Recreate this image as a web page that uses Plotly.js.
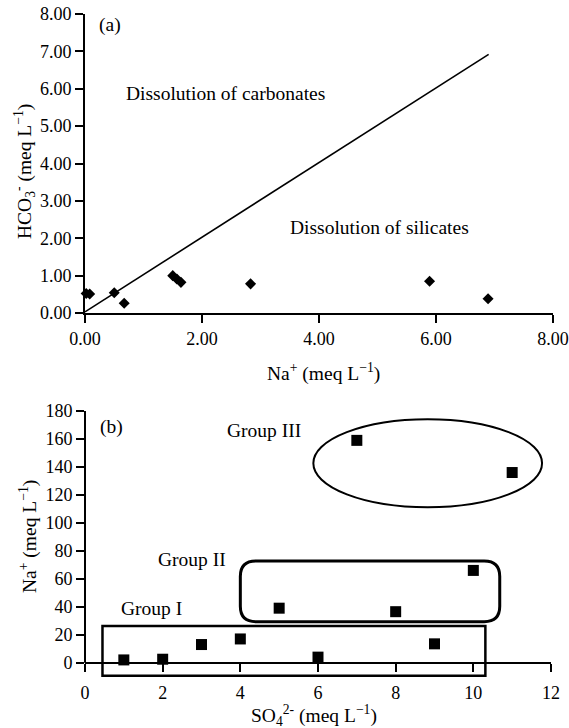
<!DOCTYPE html>
<html><head><meta charset="utf-8">
<script src="https://cdn.plot.ly/plotly-3.0.1.min.js"></script>
<style>html,body{margin:0;padding:0;background:#fff}#chart{width:569px;height:728px}</style>
</head><body><div id="chart"></div>
<script>
// Panel (a): Na+ vs HCO3-
const naA = [0.02, 0.08, 0.50, 0.67, 1.50, 1.57, 1.64, 2.83, 5.89, 6.89];
const hco3A = [0.52, 0.51, 0.54, 0.26, 1.00, 0.91, 0.82, 0.78, 0.85, 0.38];
const lineX = [0, 6.9];
const lineY = [0.03, 6.92];
const ticksA = [0, 1, 2, 3, 4, 5, 6, 7, 8];
const ticksAx = [0, 2, 4, 6, 8];
// Panel (b): SO4 2- vs Na+
const so4B = [1, 2, 3, 4, 6, 9, 5, 8, 10, 7, 11];
const naB = [2, 2.5, 13, 17, 4, 13.5, 39, 36.5, 66, 159, 136];
const ticksBy = [0, 20, 40, 60, 80, 100, 120, 140, 160, 180];
const ticksBx = [0, 2, 4, 6, 8, 10, 12];
const groupLabels = ['Group I', 'Group II', 'Group III'];

const F = 'Liberation Serif, Times New Roman, serif';
const fnt = {family: F, size: 18, color: '#000'};
const tfnt = {family: F, size: 19.5, color: '#000'};

const traces = [
  {x: lineX, y: lineY, mode: 'lines', line: {color: '#000', width: 1.6}, xaxis: 'x', yaxis: 'y', hoverinfo: 'skip'},
  {x: naA, y: hco3A, mode: 'markers', marker: {symbol: 'diamond', size: 8.5, color: '#000'}, xaxis: 'x', yaxis: 'y', cliponaxis: false},
  {x: so4B, y: naB, mode: 'markers', marker: {symbol: 'square', size: 11, color: '#000'}, xaxis: 'x2', yaxis: 'y2', cliponaxis: false}
];

function rr(x0, x1, y0, y1, rx, ry) {
  return `M ${x0+rx},${y0} L ${x1-rx},${y0} Q ${x1},${y0} ${x1},${y0+ry} L ${x1},${y1-ry} Q ${x1},${y1} ${x1-rx},${y1} L ${x0+rx},${y1} Q ${x0},${y1} ${x0},${y1-ry} L ${x0},${y0+ry} Q ${x0},${y0} ${x0+rx},${y0} Z`;
}

const axCommon = {showgrid: false, zeroline: false, showline: true, linecolor: '#000', linewidth: 2,
  ticks: 'outside', ticklen: 8, tickwidth: 2, tickcolor: '#000', tickfont: fnt, fixedrange: true};

function ann(xref, yref, x, y, text, extra) {
  return Object.assign({xref: xref, yref: yref, x: x, y: y, text: text, showarrow: false, font: tfnt,
    xanchor: 'center', yanchor: 'middle'}, extra || {});
}

const layout = {
  width: 569, height: 728, margin: {l: 0, r: 0, t: 0, b: 0},
  paper_bgcolor: '#fff', plot_bgcolor: 'rgba(0,0,0,0)', showlegend: false,
  font: fnt,
  xaxis: Object.assign({}, axCommon, {domain: [85/569, 553/569], range: [0, 8], tickvals: ticksAx, tickformat: '.2f', anchor: 'y', ticklabelstandoff: 0}),
  yaxis: Object.assign({}, axCommon, {domain: [(728-313)/728, (728-14)/728], range: [0, 8], tickvals: ticksA, tickformat: '.2f', anchor: 'x'}),
  xaxis2: Object.assign({}, axCommon, {domain: [85/569, 551/569], range: [0, 12], tickvals: ticksBx, anchor: 'free', position: (728-662.7)/728, ticklabelstandoff: 6}),
  yaxis2: Object.assign({}, axCommon, {domain: [(728-679.5)/728, (728-411)/728], range: [-12, 180], tickvals: ticksBy, anchor: 'x2', showline: false}),
  shapes: [
    {type: 'line', xref: 'x2 domain', yref: 'y2', x0: 0, x1: 0, y0: 0, y1: 180, line: {color: '#000', width: 2}},
    {type: 'rect', xref: 'x2', yref: 'y2', x0: 0.45, x1: 10.31, y0: -9.3, y1: 26.2, line: {color: '#000', width: 2.5}},
    {type: 'path', xref: 'x2', yref: 'y2', path: rr(4.0, 10.68, 29.3, 72.7, 0.4, 11), line: {color: '#000', width: 3}},
    {type: 'circle', xref: 'x2', yref: 'y2', x0: 5.88, x1: 11.77, y0: 111.2, y1: 174.1, line: {color: '#000', width: 2}}
  ],
  annotations: [
    ann('x', 'y', 0.43, 7.7, '(a)'),
    ann('x', 'y', 2.41, 5.88, 'Dissolution of carbonates'),
    ann('x', 'y', 5.04, 2.3, 'Dissolution of silicates'),
    ann('paper', 'paper', 323/569, (728-372)/728, 'Na<sup>+</sup> (meq L<sup>\u22121</sup>)'),
    ann('paper', 'paper', 24/569, (728-172)/728, 'HCO<sub>3</sub><sup>-</sup> (meq L<sup>\u22121</sup>)', {textangle: -90}),
    ann('x2', 'y2', 0.69, 168.8, '(b)'),
    ann('x2', 'y2', 1.72, 38.9, groupLabels[0]),
    ann('x2', 'y2', 2.75, 74, groupLabels[1]),
    ann('x2', 'y2', 4.6, 166.4, groupLabels[2]),
    ann('paper', 'paper', 314/569, (728-715)/728, 'SO<sub>4</sub><sup>2-</sup> (meq L<sup>\u22121</sup>)'),
    ann('paper', 'paper', 28/569, (728-537)/728, 'Na<sup>+</sup> (meq L<sup>\u22121</sup>)', {textangle: -90})
  ]
};

Plotly.newPlot('chart', traces, layout, {staticPlot: true, displayModeBar: false});
</script>
</body></html>
